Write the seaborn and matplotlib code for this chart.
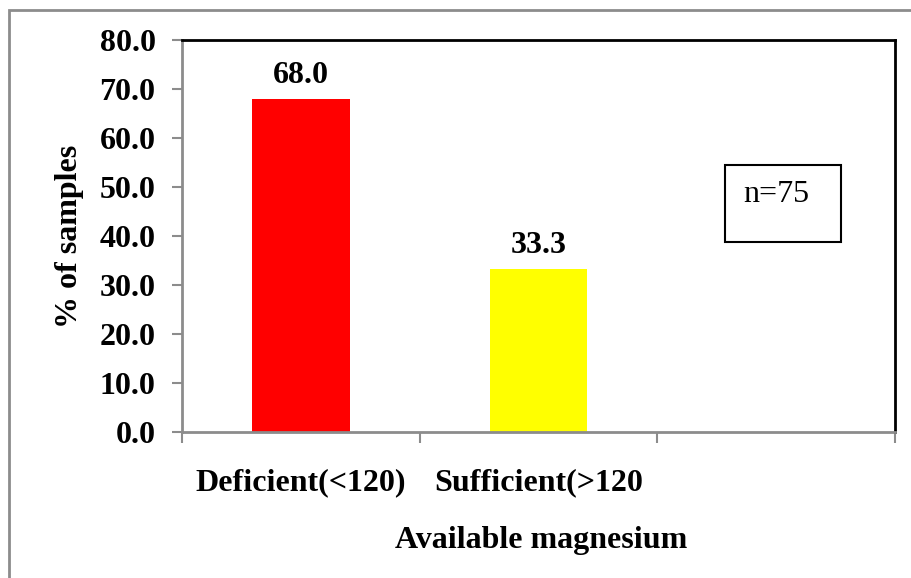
import matplotlib
matplotlib.use("Agg")
import matplotlib.pyplot as plt
import seaborn as sns
import pandas as pd
from matplotlib.patches import Rectangle
from matplotlib.ticker import FixedLocator, NullFormatter

categories = ["Deficient(<120)", "Sufficient(>120"]
values = [68.0, 33.3]
bar_colors = ["#FF0000", "#FFFF00"]
y_ticks = [0, 10, 20, 30, 40, 50, 60, 70, 80]

sns.set_theme(style="white")
plt.rcParams["font.family"] = ["Liberation Serif", "DejaVu Serif"]
plt.rcParams["text.color"] = "black"
plt.rcParams["axes.labelcolor"] = "black"
plt.rcParams["xtick.labelcolor"] = "black"
plt.rcParams["ytick.labelcolor"] = "black"

FS = 23

df = pd.DataFrame({"cat": categories, "val": values})
order = categories + [" "]

fig = plt.figure(figsize=(9.12, 5.78), dpi=100)
ax = fig.add_axes([182/912, 1 - 432/578, (895-182)/912, (432-40)/578])

sns.barplot(data=df, x="cat", y="val", order=order, hue="cat",
            palette=bar_colors, width=0.41, saturation=1, legend=False,
            ax=ax, edgecolor="none", linewidth=0)

ax.set_xlim(-0.5, 2.5)
ax.set_ylim(0, 80)
ax.set_yticks(y_ticks)
ax.set_yticklabels([f"{t:.1f}" for t in y_ticks], fontsize=FS, fontweight="bold", color="black")

# major ticks at category boundaries, labels as minor ticks at centers
ax.xaxis.set_major_locator(FixedLocator([-0.5, 0.5, 1.5, 2.5]))
ax.xaxis.set_major_formatter(NullFormatter())
ax.set_xticks([0, 1], minor=True)
ax.set_xticklabels(categories, minor=True, fontsize=FS, fontweight="bold", color="black")
ax.tick_params(axis="x", which="minor", length=0, pad=26)
ax.tick_params(axis="x", which="major", length=8, width=1.5, color="#8c8c8c", direction="out", bottom=True)
ax.tick_params(axis="y", length=7, width=1.5, color="#8c8c8c", direction="out", left=True, pad=12)

for side in ["left", "bottom"]:
    ax.spines[side].set_color("#8c8c8c")
    ax.spines[side].set_linewidth(2)
for side in ["top", "right"]:
    ax.spines[side].set_color("black")
    ax.spines[side].set_linewidth(2)
    ax.spines[side].set_visible(True)

for c in ax.containers:
    ax.bar_label(c, fmt="%.1f", padding=6, fontsize=FS, fontweight="bold", color="black")

ax.set_xlabel("Available magnesium", fontsize=FS, fontweight="bold", color="black")
ax.set_ylabel("% of samples", fontsize=FS, fontweight="bold", color="black")
ax.xaxis.set_label_coords(0.503, -0.24)
ax.yaxis.set_label_coords(-0.137, 0.5)

# n=75 box
ax.add_patch(Rectangle((0.762, 0.485), 0.162, 0.196, transform=ax.transAxes,
                       fill=False, edgecolor="black", linewidth=1.5))
ax.text(0.833, 0.605, "n=75", transform=ax.transAxes, ha="center", va="center",
        fontsize=FS, color="black")

# outer border (right and bottom edges fall outside the image)
fig.patches.append(Rectangle((9.5/912, -0.05), 1.0, 1.05 - 9.5/578,
                             transform=fig.transFigure, fill=False,
                             edgecolor="#8c8c8c", linewidth=2))

fig.savefig("out.png", dpi=100)
